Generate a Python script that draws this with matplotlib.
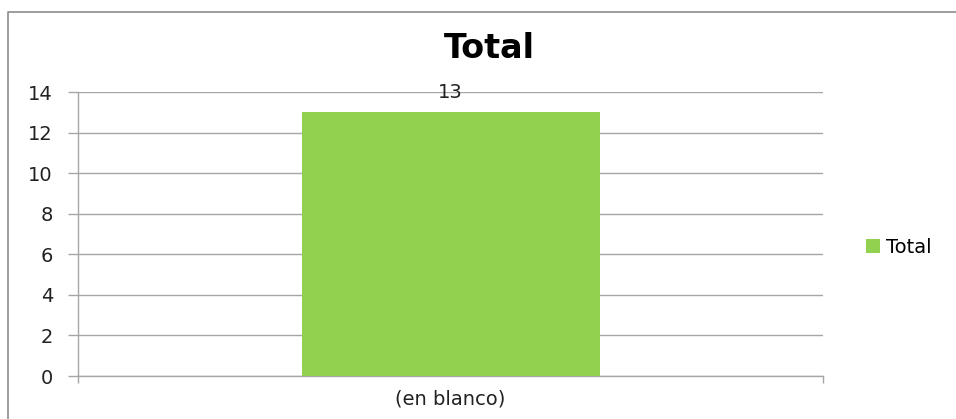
import matplotlib
matplotlib.use("Agg")
import matplotlib.pyplot as plt
from matplotlib.lines import Line2D
from matplotlib.patches import Patch

plt.rcParams["font.family"] = "sans-serif"
plt.rcParams["font.sans-serif"] = ["DejaVu Sans"]

categories = ["(en blanco)"]
values = [13]
series_name = "Total"
yticks = [0, 2, 4, 6, 8, 10, 12, 14]

bar_color = "#92D050"
grid_color = "#a6a6a6"

W, H = 956, 419
fig = plt.figure(figsize=(W / 100, H / 100), dpi=100)
fig.patch.set_facecolor("white")

# plot area in pixel coords from the reference
left, right, top, bottom = 78, 823, 92, 376
ax = fig.add_axes([left / W, 1 - bottom / H, (right - left) / W, (bottom - top) / H])

x = list(range(len(categories)))
bars = ax.bar(x, values, width=0.4, color=bar_color, zorder=3)
ax.set_xlim(-0.5, len(categories) - 0.5)
ax.set_ylim(0, 14)

ax.set_yticks(yticks)
ax.set_yticklabels([str(v) for v in yticks], fontsize=14, color="#222222")
ax.yaxis.grid(True, color=grid_color, linewidth=1.0, zorder=0)
ax.set_xticks(x)
ax.set_xticklabels(categories, fontsize=14, color="#222222")
ax.tick_params(axis="x", length=0, pad=10)
ax.tick_params(axis="y", length=7, width=1.0, color=grid_color, pad=11)
# category boundary ticks on x axis
ax.set_xticks([-0.5, len(categories) - 0.5], minor=True)
ax.tick_params(axis="x", which="minor", length=5, width=1.0, color=grid_color)

for s in ["top", "right"]:
    ax.spines[s].set_visible(False)
for s in ["left", "bottom"]:
    ax.spines[s].set_color(grid_color)
    ax.spines[s].set_linewidth(1.0)

for rect, v in zip(bars, values):
    ax.text(rect.get_x() + rect.get_width() / 2, v + 0.5, str(v),
            ha="center", va="bottom", fontsize=14, color="#222222",
            clip_on=False)

fig.text(489 / W, 1 - 48 / H, "Total", ha="center", va="center",
         fontsize=24, fontweight="bold")

handles = [Patch(facecolor=bar_color, edgecolor="none")]
fig.legend(handles, [series_name], loc="center left",
           bbox_to_anchor=(848 / W, 1 - 247 / H), frameon=False,
           fontsize=14, handlelength=0.75, handleheight=0.75, handletextpad=0.3)

# outer chart border
fig.add_artist(Line2D([8 / W, 8 / W, 1.0], [0.0, 1 - 12 / H, 1 - 12 / H],
                      transform=fig.transFigure, color="#8c8c8c", linewidth=1.2))

fig.savefig("out.png", dpi=100)
